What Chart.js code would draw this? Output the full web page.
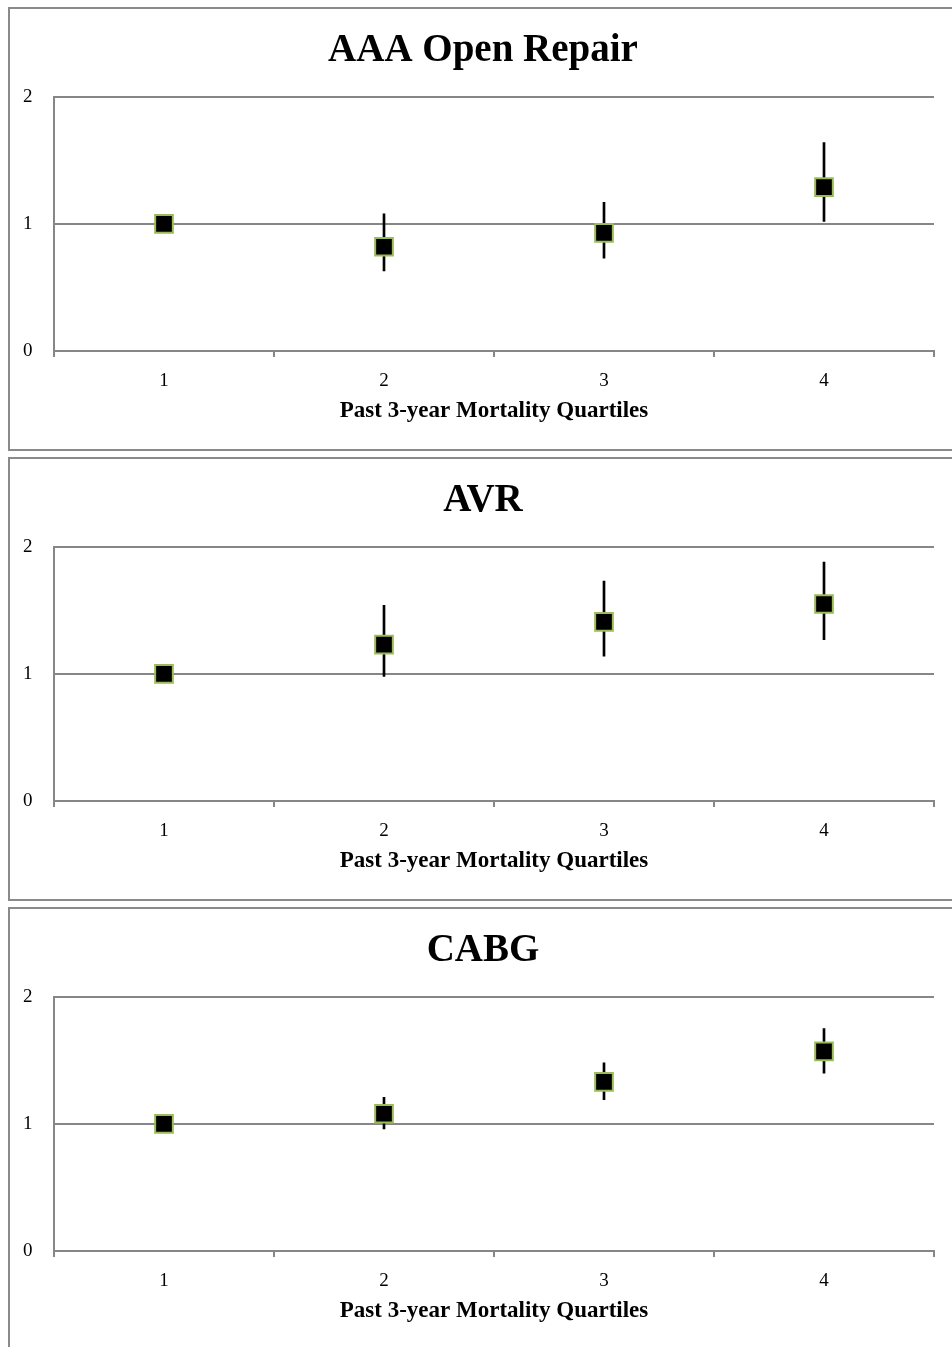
<!DOCTYPE html>
<html>
<head>
<meta charset="utf-8">
<script src="https://cdn.jsdelivr.net/npm/chart.js@4.4.0/dist/chart.umd.min.js"></script>
<style>
  body { margin: 0; background: #fff; width: 952px; height: 1347px; overflow: hidden; position: relative; }
  .box { position: absolute; left: 8px; width: 960px; height: 440px; border: 2px solid #8a8a8a; background: #fff; }
  .box canvas { display: block; }
</style>
</head>
<body>
<div class="box" style="top:7px"><canvas id="chartAAA" width="960" height="440"></canvas></div>
<div class="box" style="top:457px"><canvas id="chartAVR" width="960" height="440"></canvas></div>
<div class="box" style="top:907px"><canvas id="chartCABG" width="960" height="440"></canvas></div>
<script>
const quartiles = ["1", "2", "3", "4"];
const yTicks = [0, 1, 2];

const aaaValues = [1, 0.82, 0.93, 1.29];
const aaaLow = [null, 0.63, 0.73, 1.02];
const aaaHigh = [null, 1.08, 1.17, 1.64];

const avrValues = [1, 1.23, 1.41, 1.55];
const avrLow = [null, 0.98, 1.14, 1.27];
const avrHigh = [null, 1.54, 1.73, 1.88];

const cabgValues = [1, 1.08, 1.33, 1.57];
const cabgLow = [null, 0.96, 1.19, 1.40];
const cabgHigh = [null, 1.21, 1.48, 1.75];

const serif = "'Liberation Serif', 'Times New Roman', serif";
const axisGray = "#868686";

function makeChart(id, title, values, low, high) {
    // error bars are floating bars two pixels wide
    const bars = low.map((l, i) => (l === null ? null : [l, high[i]]));

    new Chart(document.getElementById(id), {
        type: 'bar',
        data: {
            labels: quartiles,
            datasets: [{
                type: 'line',
                data: values,
                showLine: false,
                pointStyle: 'rect',
                pointRadius: 12.5,
                pointBackgroundColor: "#000",
                pointBorderColor: "#9bbb59",
                pointBorderWidth: 2,
                order: 0
            }, {
                type: 'bar',
                data: bars,
                backgroundColor: "#000",
                barThickness: 2,
                order: 1
            }]
        },
        options: {
            responsive: false,
            animation: false,
            layout: { padding: { left: 22, right: 36, top: 0, bottom: 0 } },
            plugins: {
                legend: { display: false },
                tooltip: { enabled: false },
                title: {
                    display: true,
                    text: title,
                    color: "#000",
                    font: { family: serif, size: 39, weight: 'bold' },
                    padding: { top: 19, bottom: 22 }
                }
            },
            scales: {
                x: {
                    type: 'category',
                    offset: true,
                    grid: {
                        offset: true,
                        drawOnChartArea: false,
                        drawTicks: true,
                        tickLength: 6,
                        color: axisGray,
                        lineWidth: 2
                    },
                    border: { display: true, color: axisGray, width: 2 },
                    ticks: { color: "#000", padding: 13, font: { family: serif, size: 19 } },
                    title: {
                        display: true,
                        text: "Past 3-year Mortality Quartiles",
                        color: "#000",
                        font: { family: serif, size: 23, weight: 'bold' },
                        padding: { top: 0, bottom: 24 }
                    },
                    afterFit: (scale) => { scale.height = 98; }
                },
                y: {
                    min: yTicks[0],
                    max: yTicks[yTicks.length - 1],
                    afterBuildTicks: (scale) => { scale.ticks = yTicks.map(v => ({ value: v })); },
                    grid: { color: axisGray, lineWidth: 2, drawTicks: false },
                    border: { display: true, color: axisGray, width: 2 },
                    // mirrored with a negative padding so the labels sit left of the axis, unclipped
                    ticks: { mirror: true, padding: -31, color: "#000", font: { family: serif, size: 19 } },
                    afterFit: (scale) => { scale.width = 22; }
                }
            }
        }
    });
}

makeChart("chartAAA", "AAA Open Repair", aaaValues, aaaLow, aaaHigh);
makeChart("chartAVR", "AVR", avrValues, avrLow, avrHigh);
makeChart("chartCABG", "CABG", cabgValues, cabgLow, cabgHigh);
</script>
</body>
</html>
